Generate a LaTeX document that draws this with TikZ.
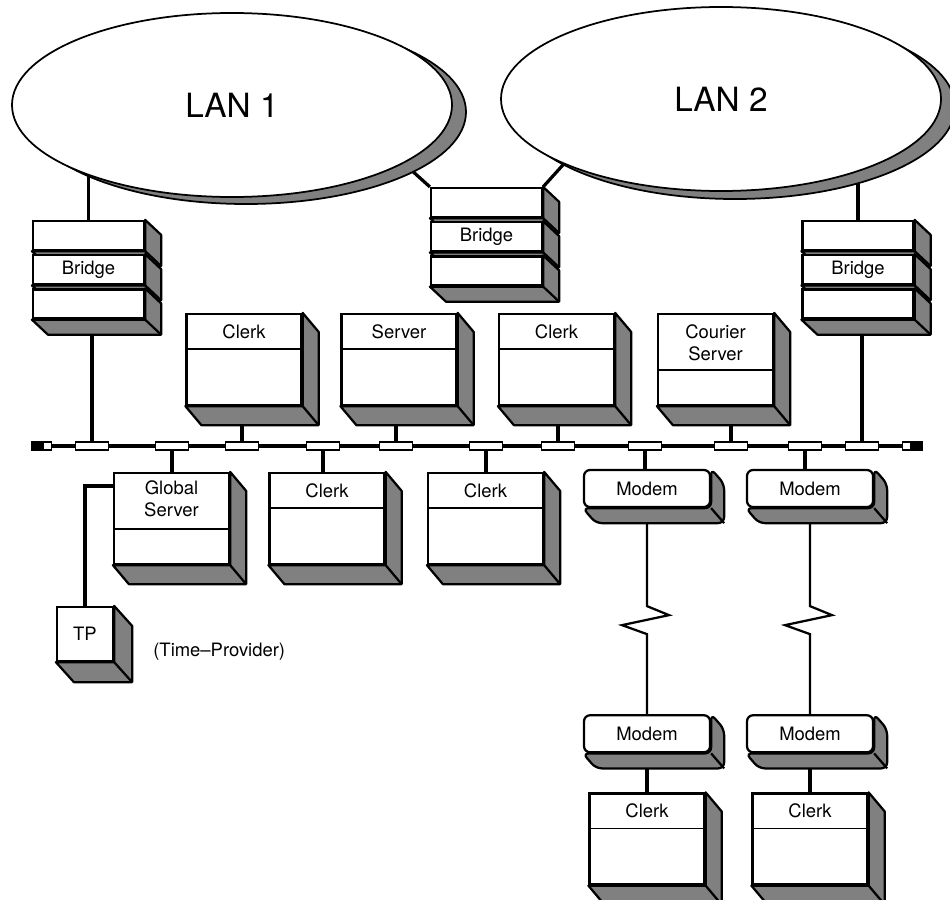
\documentclass[tikz,border=0pt]{standalone}
\usepackage{fontspec}
\setmainfont{TeX Gyre Heros}
\usetikzlibrary{positioning,backgrounds,shapes.geometric}

\definecolor{shade}{gray}{0.5}

% gray side and bottom of a box: [extra], node, dx, dy
\newcommand{\extrude}[4][]{%
  \draw[side,#1] (#2.north east) -- ++(#3,#4) -- ([shift={(#3,#4)}]#2.south east)
    -- ([shift={(#3,#4)}]#2.south west) -- (#2.south west) -- (#2.south east) -- cycle;
  \draw[side,#1] (#2.south east) -- ++(#3,#4);
}

\begin{document}
\begin{tikzpicture}[x=0.2mm,y=-0.2mm]
\tikzset{
  every node/.style={font=\fontsize{10.5}{12.6}\selectfont},
  front/.style={rectangle, draw, fill=white, line width=0.45mm, inner sep=0pt},
  slab/.style={front, minimum width=22.2mm, minimum height=5.8mm},
  box/.style={front, minimum width=23mm, minimum height=18.2mm,
    path picture={\draw[line width=0.3mm] ([yshift=-#1]path picture bounding box.north west)
      -- ([yshift=-#1]path picture bounding box.north east);}},
  title/.style={anchor=north, yshift=-2.2mm, inner sep=0pt, align=center},
  modem/.style={front, rounded corners=1.2mm, minimum width=25.2mm, minimum height=7.4mm},
  tpbox/.style={front, minimum width=11.2mm, minimum height=10.8mm},
  tap/.style={rectangle, draw, fill=white, line width=0.3mm, minimum width=6.6mm,
    minimum height=1.6mm, inner sep=0pt},
  endblk/.style={rectangle, draw, fill=black, line width=0.25mm, minimum width=2mm,
    minimum height=1.6mm, inner sep=0pt},
  endwht/.style={endblk, fill=white, minimum width=1.6mm},
  lan/.style={ellipse, draw, fill=white, line width=0.35mm, minimum width=88mm,
    minimum height=36.8mm, inner sep=0pt, font=\fontsize{19}{23}\selectfont},
  lanside/.style={draw, fill=shade, line width=0.35mm},
  side/.style={draw, fill=shade, line width=0.45mm, line join=round},
  link/.style={line width=0.65mm},
  wire/.style={line width=0.45mm},
  bus/.style={line width=0.7mm}
}
\useasboundingbox (0,0) rectangle (950,899);

% LANs
\node[lan] (lan1) at (232,105) {LAN 1};
\node[lan] (lan2) at (721,99) {LAN 2};

% Bridges
\node[slab] (bL1) at (88.5,235.5) {};
\node[slab, below=0.6mm of bL1] (bL2) {Bridge};
\node[slab, below=0.6mm of bL2] (bL3) {};
\node[slab] (bM1) at (486.5,202.5) {};
\node[slab, below=0.6mm of bM1] (bM2) {Bridge};
\node[slab, below=0.6mm of bM2] (bM3) {};
\node[slab] (bR1) at (858,235.5) {};
\node[slab, below=0.6mm of bR1] (bR2) {Bridge};
\node[slab, below=0.6mm of bR2] (bR3) {};

% Upper row
\node[box=7mm, label={[title]north:Clerk}] (clerkA) at (244,359.5) {};
\node[box=7mm, label={[title]north:Server}] (server) at (399,359.5) {};
\node[box=7mm, label={[title]north:Clerk}] (clerkB) at (556.5,359.5) {};
\node[box=11.2mm, label={[title]north:Courier\\Server}] (courier) at (715.5,359.5) {};

% Lower row
\node[box=11.2mm, label={[title, yshift=0.5mm]north:Global\\Server}] (global) at (171.5,518.5) {};
\node[box=7mm, label={[title]north:Clerk}] (clerkC) at (327,518.5) {};
\node[box=7mm, label={[title]north:Clerk}] (clerkD) at (485.5,518.5) {};
\node[modem] (modemA) at (647,488.5) {Modem};
\node[modem] (modemB) at (810,488.5) {Modem};

% Remote sites
\node[modem, below=41.2mm of modemA] (modemC) {Modem};
\node[modem, below=41.2mm of modemB] (modemD) {Modem};
\node[box=7mm, label={[title]north:Clerk}, below=7.8mm of modemC] (clerkE) {};
\node[box=7mm, label={[title]north:Clerk}, below=7.8mm of modemD] (clerkF) {};

% Time provider
\node[tpbox] (tp) at (85,634) {TP};
\node[right=6.6mm of tp, yshift=-3.6mm] (tpnote) {(Time--Provider)};

% Bus ends and taps
\node[endblk] (endL) at (37,446) {};
\node[endwht, right=0pt of endL] (endLw) {};
\node[endblk] (endR) at (917,446) {};
\node[endwht, left=0pt of endR] (endRw) {};
\node[tap] (t1) at (92,446) {};
\node[tap] (t2) at (172,446) {};
\node[tap] (t3) at (242,446) {};
\node[tap] (t4) at (323,446) {};
\node[tap] (t5) at (396,446) {};
\node[tap] (t6) at (486,446) {};
\node[tap] (t7) at (558,446) {};
\node[tap] (t8) at (645,446) {};
\node[tap] (t9) at (731,446) {};
\node[tap] (t10) at (805,446) {};
\node[tap] (t11) at (862,446) {};

\begin{scope}[on background layer]
% Connectors
\draw[link] (bL1.north) -- (bL1.north |- lan1.center);
\draw[link] (bM1.north west) -- ++(-30,-27);
\draw[link] (bM1.north east) -- ++(28,-31);
\draw[link] (bR1.north) -- (bR1.north |- lan2.center);
\draw[bus] (endLw.east) -- (endRw.west);
\draw[link] (t1) -- (t1 |- bL3.south);
\draw[link] (t2) -- (t2 |- global.north);
\draw[link] (t3) -- (t3 |- clerkA.south);
\draw[link] (t4) -- (t4 |- clerkC.north);
\draw[link] (t5) -- (t5 |- server.south);
\draw[link] (t6) -- (t6 |- clerkD.north);
\draw[link] (t7) -- (t7 |- clerkB.south);
\draw[link] (t8) -- (t8 |- modemA.north);
\draw[link] (t9) -- (t9 |- courier.south);
\draw[link] (t10) -- (t10 |- modemB.north);
\draw[link] (t11) -- (t11 |- bR3.south);
\draw[wire] (modemA.south) -- ++(0,98) -- ++(22,9) -- ++(-47,10) -- ++(25,9) -- (modemC.north);
\draw[wire] (modemB.south) -- ++(0,98) -- ++(22,9) -- ++(-47,10) -- ++(25,9) -- (modemD.north);
\draw[link] (modemC.south) -- (clerkE.north);
\draw[link] (modemD.south) -- (clerkF.north);
\draw[link] ([yshift=6.5mm]global.west) -| (tp.north);

% Shadows
\draw[lanside] ([shift={(14,7)}]lan1.center) ellipse [x radius=44mm, y radius=18.4mm];
\draw[lanside] ([shift={(14,8)}]lan2.center) ellipse [x radius=44mm, y radius=18.4mm];
\extrude{bL1}{16}{15}
\extrude{bL2}{16}{15}
\extrude{bL3}{16}{15}
\extrude{bM1}{16}{15}
\extrude{bM2}{16}{15}
\extrude{bM3}{16}{15}
\extrude{bR1}{16}{15}
\extrude{bR2}{16}{15}
\extrude{bR3}{16}{15}
\extrude{clerkA}{16}{19}
\extrude{server}{16}{19}
\extrude{clerkB}{16}{19}
\extrude{courier}{16}{19}
\extrude{global}{16}{19}
\extrude{clerkC}{16}{19}
\extrude{clerkD}{16}{19}
\extrude{clerkE}{16}{19}
\extrude{clerkF}{16}{19}
\extrude[rounded corners=1.2mm]{modemA}{13}{15}
\extrude[rounded corners=1.2mm]{modemB}{13}{15}
\extrude[rounded corners=1.2mm]{modemC}{13}{15}
\extrude[rounded corners=1.2mm]{modemD}{13}{15}
\extrude{tp}{18}{20}
\end{scope}
\end{tikzpicture}
\end{document}
